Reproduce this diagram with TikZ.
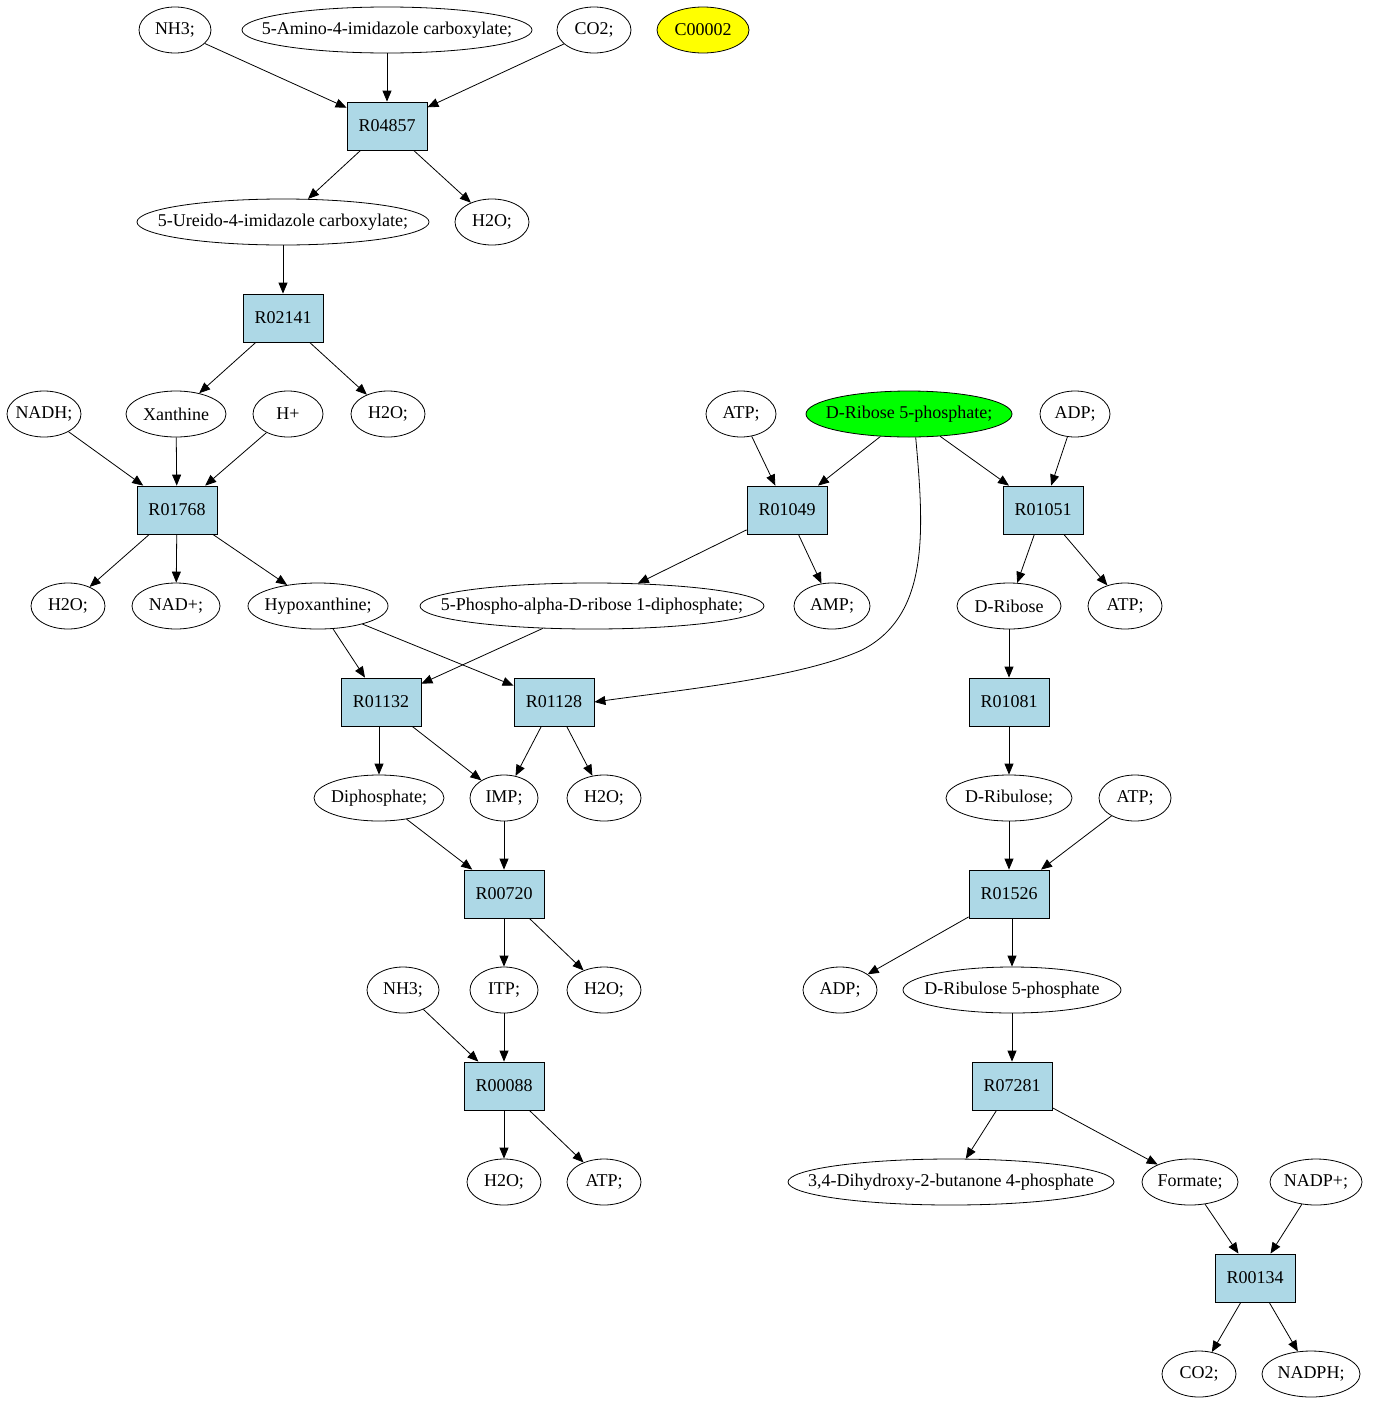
\documentclass[tikz,border=0pt]{standalone}
\usepackage{fontspec}
\setmainfont{Liberation Serif}
\usepackage{xcolor}
\usetikzlibrary{positioning,shapes,arrows.meta}
\definecolor{rxnblue}{HTML}{ADD8E6}
\definecolor{seedgreen}{HTML}{00FF00}
\definecolor{cpdyellow}{HTML}{FFFF00}

\begin{document}
\begin{tikzpicture}[x=1pt,y=-1pt,
  every node/.style={font=\fontsize{18}{20}\selectfont},
  met/.style={ellipse, draw, line width=0.8pt, inner sep=0pt, minimum height=46pt,
    execute at begin node={\hbox to 0pt\bgroup\hss},
    execute at end node={\hss\egroup}},
  rxn/.style={rectangle, draw, line width=0.8pt, fill=rxnblue, minimum width=80pt, minimum height=48pt},
  edge/.style={line width=0.8pt, -{Triangle[length=11pt,width=9pt]}}]
\useasboundingbox (0,0) rectangle (1373,1403);
% row 1
\node[met, minimum width=72pt] (nh3a) at (175,30) {NH3;};
\node[met, minimum width=290pt] (aic) at (387,30) {5-Amino-4-imidazole carboxylate;};
\node[met, minimum width=74pt] (co2a) at (594,30) {CO2;};
\node[met, minimum width=92pt, fill=cpdyellow] (c00002) at (703,30) {C00002};
\node[rxn] (r04857) at (387,126) {R04857};
\node[met, minimum width=292pt] (uic) at (283,222) {5-Ureido-4-imidazole carboxylate;};
\node[met, minimum width=74pt] (h2oa) at (492,222) {H2O;};
\node[rxn] (r02141) at (283,318) {R02141};
% row 414
\node[met, minimum width=74pt] (nadh) at (44,414) {NADH;};
\node[met, minimum width=100pt] (xan) at (176,414) {Xanthine};
\node[met, minimum width=70pt] (hplus) at (288,414) {H+};
\node[met, minimum width=74pt] (h2ob) at (388,414) {H2O;};
\node[met, minimum width=70pt] (atpa) at (741,414) {ATP;};
\node[met, minimum width=206pt, fill=seedgreen] (drp) at (909,414) {D-Ribose 5-phosphate;};
\node[met, minimum width=70pt] (adpa) at (1075,414) {ADP;};
\node[rxn] (r01768) at (177,510) {R01768};
\node[rxn] (r01049) at (787,510) {R01049};
\node[rxn] (r01051) at (1043,510) {R01051};
% row 606
\node[met, minimum width=74pt] (h2oc) at (68,606) {H2O;};
\node[met, minimum width=88pt] (nad) at (176,606) {NAD+;};
\node[met, minimum width=140pt] (hyp) at (318,606) {Hypoxanthine;};
\node[met, minimum width=344pt] (prpp) at (592,606) {5-Phospho-alpha-D-ribose 1-diphosphate;};
\node[met, minimum width=76pt] (amp) at (832,606) {AMP;};
\node[met, minimum width=104pt] (drib) at (1009,606) {D-Ribose};
\node[met, minimum width=74pt] (atpb) at (1125,606) {ATP;};
\node[rxn] (r01132) at (381,702) {R01132};
\node[rxn] (r01128) at (554,702) {R01128};
\node[rxn] (r01081) at (1009,702) {R01081};
% row 798
\node[met, minimum width=130pt] (ppi) at (379,798) {Diphosphate;};
\node[met, minimum width=68pt] (imp) at (504,798) {IMP;};
\node[met, minimum width=74pt] (h2od) at (604,798) {H2O;};
\node[met, minimum width=126pt] (drul) at (1009,798) {D-Ribulose;};
\node[met, minimum width=72pt] (atpc) at (1135,798) {ATP;};
\node[rxn] (r00720) at (504,894) {R00720};
\node[rxn] (r01526) at (1009,894) {R01526};
% row 990
\node[met, minimum width=72pt] (nh3b) at (403,990) {NH3;};
\node[met, minimum width=68pt] (itp) at (504,990) {ITP;};
\node[met, minimum width=74pt] (h2oe) at (604,990) {H2O;};
\node[met, minimum width=74pt] (adpb) at (840,990) {ADP;};
\node[met, minimum width=218pt] (dru5p) at (1012,990) {D-Ribulose 5-phosphate};
\node[rxn] (r00088) at (504,1086) {R00088};
\node[rxn] (r07281) at (1012,1086) {R07281};
% row 1182
\node[met, minimum width=74pt] (h2of) at (504,1182) {H2O;};
\node[met, minimum width=74pt] (atpd) at (604,1182) {ATP;};
\node[met, minimum width=326pt] (dhbp) at (951,1182) {3,4-Dihydroxy-2-butanone 4-phosphate};
\node[met, minimum width=96pt] (form) at (1190,1182) {Formate;};
\node[met, minimum width=92pt] (nadp) at (1316,1182) {NADP+;};
\node[rxn] (r00134) at (1255,1278) {R00134};
\node[met, minimum width=74pt] (co2b) at (1199,1374) {CO2;};
\node[met, minimum width=98pt] (nadph) at (1311,1374) {NADPH;};
% edges
\draw[edge] (nh3a) -- (r04857);
\draw[edge] (aic) -- (r04857);
\draw[edge] (co2a) -- (r04857);
\draw[edge] (r04857) -- (uic);
\draw[edge] (r04857) -- (h2oa);
\draw[edge] (uic) -- (r02141);
\draw[edge] (r02141) -- (xan);
\draw[edge] (r02141) -- (h2ob);
\draw[edge] (nadh) -- (r01768);
\draw[edge] (xan) -- (r01768);
\draw[edge] (hplus) -- (r01768);
\draw[edge] (r01768) -- (h2oc);
\draw[edge] (r01768) -- (nad);
\draw[edge] (r01768) -- (hyp);
\draw[edge] (atpa) -- (r01049);
\draw[edge] (drp) -- (r01049);
\draw[edge] (drp) -- (r01051);
\draw[edge] (adpa) -- (r01051);
\draw[edge] (drp.-74) .. controls (924,530) and (930,615) .. (862,650)
  .. controls (800,678) and (680,690) .. (r01128.east);
\draw[edge] (r01049) -- (prpp);
\draw[edge] (r01049) -- (amp);
\draw[edge] (r01051) -- (drib);
\draw[edge] (r01051) -- (atpb);
\draw[edge] (hyp) -- (r01132);
\draw[edge] (hyp) -- (r01128);
\draw[edge] (prpp) -- (r01132);
\draw[edge] (r01132.south -| ppi) -- (ppi);
\draw[edge] (r01132) -- (imp);
\draw[edge] (r01128) -- (imp);
\draw[edge] (r01128) -- (h2od);
\draw[edge] (ppi) -- (r00720);
\draw[edge] (imp) -- (r00720);
\draw[edge] (r00720) -- (itp);
\draw[edge] (r00720) -- (h2oe);
\draw[edge] (nh3b) -- (r00088);
\draw[edge] (itp) -- (r00088);
\draw[edge] (r00088) -- (h2of);
\draw[edge] (r00088) -- (atpd);
\draw[edge] (drib) -- (r01081);
\draw[edge] (r01081) -- (drul);
\draw[edge] (drul) -- (r01526);
\draw[edge] (atpc) -- (r01526);
\draw[edge] (r01526) -- (adpb);
\draw[edge] (r01526.south -| dru5p) -- (dru5p);
\draw[edge] (dru5p) -- (r07281);
\draw[edge] (r07281) -- (dhbp);
\draw[edge] (r07281) -- (form);
\draw[edge] (form) -- (r00134);
\draw[edge] (nadp) -- (r00134);
\draw[edge] (r00134) -- (co2b);
\draw[edge] (r00134) -- (nadph);
\end{tikzpicture}
\end{document}
